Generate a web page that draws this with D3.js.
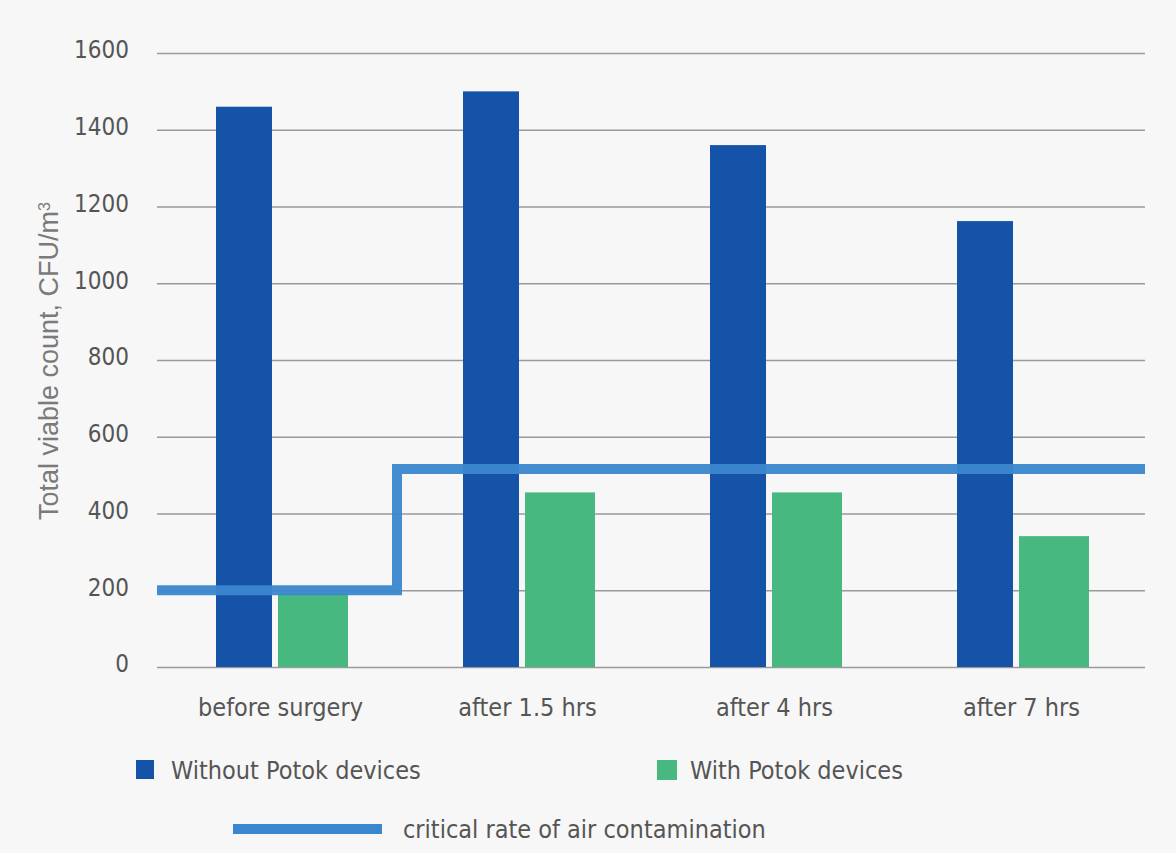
<html>
<head>
<script src="https://d3js.org/d3.v7.min.js"></script>
<style>
body { margin: 0; background: #f7f7f7; }
svg { display: block; }
.cond { font-family: "Liberation Sans Narrow", "DejaVu Sans Condensed", sans-serif; }
</style>
</head>
<body>
<svg width="1176" height="853"></svg>
<script>
// chart data
var categories = ["before surgery", "after 1.5 hrs", "after 4 hrs", "after 7 hrs"];
var withoutPotok = [1460, 1500, 1360, 1162];
var withPotok = [193, 455, 455, 341];
var criticalRate = [200, 516, 516, 516];
var yTicks = [0, 200, 400, 600, 800, 1000, 1200, 1400, 1600];

var blue = "#1553a8", green = "#47b880", lineBlue = "#3b87cf", textGray = "#555";

var svg = d3.select("svg");

var x = d3.scaleBand().domain(categories).range([157, 1145]);
var y = d3.scaleLinear().domain([0, 1600]).range([667, 53]);

// gridlines + tick labels
var yAxis = svg.append("g")
  .attr("transform", "translate(157,0)")
  .call(d3.axisLeft(y).tickValues(yTicks).tickSize(-988).tickPadding(28).tickFormat(d3.format("d")));
yAxis.select(".domain").remove();
yAxis.selectAll("line").attr("stroke", "#9a9a9a").attr("stroke-width", 1.6);
yAxis.selectAll("text")
  .attr("class", "cond")
  .attr("font-size", 24)
  .attr("fill", textGray)
  .attr("dy", "0.2em");

// category labels
var xAxis = svg.append("g")
  .attr("transform", "translate(0,667)")
  .call(d3.axisBottom(x).tickSize(0).tickPadding(31));
xAxis.select(".domain").remove();
xAxis.selectAll("text")
  .attr("class", "cond")
  .attr("font-size", 25)
  .attr("fill", textGray);

// bars
svg.selectAll(".bar-without").data(categories).enter().append("rect")
  .attr("x", function (d) { return x(d) + 59; })
  .attr("width", 56)
  .attr("y", function (d, i) { return y(withoutPotok[i]); })
  .attr("height", function (d, i) { return y(0) - y(withoutPotok[i]); })
  .attr("fill", blue);

svg.selectAll(".bar-with").data(categories).enter().append("rect")
  .attr("x", function (d) { return x(d) + 121; })
  .attr("width", 70)
  .attr("y", function (d, i) { return y(withPotok[i]); })
  .attr("height", function (d, i) { return y(0) - y(withPotok[i]); })
  .attr("fill", green);

// critical rate step line
var pts = categories.map(function (d, i) {
  return [i === 0 ? x.range()[0] : x(d) - 7, criticalRate[i]];
});
pts.push([x.range()[1], criticalRate[criticalRate.length - 1]]);
svg.append("path")
  .attr("d", d3.line()
    .x(function (p) { return p[0]; })
    .y(function (p) { return y(p[1]); })
    .curve(d3.curveStepAfter)(pts))
  .attr("fill", "none")
  .attr("stroke", lineBlue)
  .attr("stroke-width", 10)
  .attr("opacity", 0.95);

// y axis title
svg.append("text")
  .attr("transform", "translate(58,361) rotate(-90)")
  .attr("text-anchor", "middle")
  .attr("font-family", "Liberation Sans, Arial, sans-serif")
  .attr("font-size", 27)
  .attr("fill", "#7a7a7a")
  .html("Total viable count, CFU/m<tspan baseline-shift='super' font-size='16'>3</tspan>");

// legend
var legend = svg.append("g").attr("class", "cond").attr("font-size", 25).attr("fill", textGray);
legend.append("rect").attr("x", 136).attr("y", 760).attr("width", 18).attr("height", 19).attr("fill", blue);
legend.append("text").attr("x", 171).attr("y", 779).text("Without Potok devices");
legend.append("rect").attr("x", 657).attr("y", 760).attr("width", 20).attr("height", 20).attr("fill", green);
legend.append("text").attr("x", 690).attr("y", 779).text("With Potok devices");
legend.append("line").attr("x1", 233).attr("x2", 382).attr("y1", 829).attr("y2", 829)
  .attr("stroke", lineBlue).attr("stroke-width", 10);
legend.append("text").attr("x", 403).attr("y", 838).text("critical rate of air contamination");
</script>
</body>
</html>
